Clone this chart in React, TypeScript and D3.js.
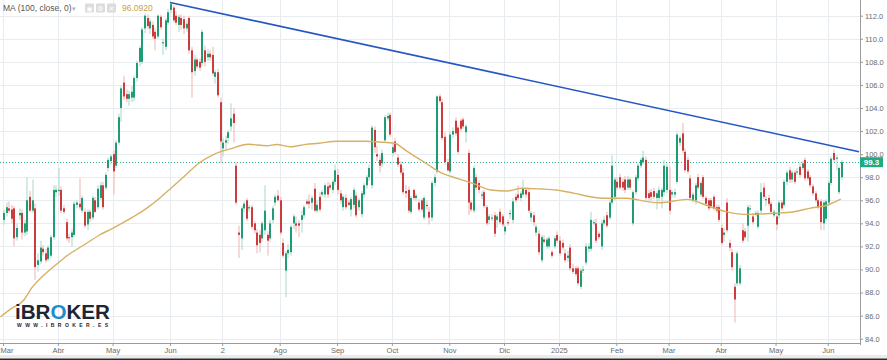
import { useEffect, useRef } from 'react';
import * as d3 from 'd3';

// daily candles per month, [open, high, low, close]
const mar24 = [
    [94.3, 95.2, 93.9, 94.9], [94.9, 95.8, 94.6, 95.4], [95.3, 95.9, 94.9, 95.1], [95.2, 95.6, 94.0, 94.4],
    [95.3, 95.5, 92.0, 92.7], [92.8, 94.0, 92.5, 93.6], [94.7, 95.3, 94.3, 94.9], [94.9, 95.2, 92.6, 93.2],
    [93.2, 94.3, 92.9, 94.0], [93.3, 98.0, 93.0, 96.0], [96.3, 96.8, 95.0, 95.1], [95.1, 97.8, 94.9, 96.0],
    [95.3, 95.7, 89.1, 90.2], [90.4, 91.4, 89.8, 90.8], [90.7, 92.5, 90.5, 91.9], [91.8, 92.1, 91.2, 91.5],
    [91.4, 91.8, 90.6, 90.8], [90.9, 92.1, 90.7, 91.9], [91.2, 93.0, 91.0, 92.8], [92.8, 97.3, 92.6, 96.9],
    [96.7, 97.3, 96.3, 96.9],
];
const abr24 = [
    [96.8, 98.8, 96.4, 96.9], [96.9, 97.2, 94.9, 95.1], [95.3, 95.6, 94.8, 95.0], [94.1, 94.4, 92.5, 92.7],
    [92.8, 93.1, 92.3, 92.7], [92.8, 93.5, 92.0, 93.2], [93.0, 95.9, 92.8, 95.7], [95.6, 96.0, 95.3, 95.8],
    [95.7, 97.9, 95.2, 95.4], [95.1, 96.4, 94.9, 96.2], [95.0, 95.3, 93.6, 93.8], [93.9, 95.2, 93.4, 95.0],
    [95.0, 95.2, 94.1, 94.4], [94.5, 96.4, 94.3, 96.2], [96.0, 96.3, 94.9, 95.0], [95.4, 97.3, 95.2, 97.0],
    [96.2, 97.6, 96.0, 97.3], [97.3, 97.6, 95.2, 95.4], [97.1, 98.4, 96.9, 98.2], [98.8, 99.7, 98.5, 99.5],
    [99.4, 100.0, 99.1, 99.8],
];
const may24 = [
    [100.0, 100.3, 96.5, 98.5], [99.0, 101.2, 98.8, 101.0], [101.0, 103.5, 100.8, 103.2], [104.0, 105.9, 102.8, 105.7],
    [106.2, 106.8, 104.7, 105.0], [105.2, 105.6, 104.5, 104.8], [104.8, 105.5, 104.2, 105.2], [104.9, 105.9, 104.5, 105.4],
    [104.9, 106.8, 104.6, 106.6], [106.6, 108.1, 106.3, 107.9], [108.0, 109.4, 107.6, 109.2], [108.0, 111.0, 107.8, 110.8],
    [110.9, 112.2, 110.5, 112.0], [111.8, 112.1, 110.8, 111.1], [110.9, 111.8, 110.4, 111.5], [111.2, 111.5, 110.0, 110.2],
    [110.6, 110.9, 109.0, 110.0], [110.2, 112.1, 110.0, 112.0], [111.9, 112.1, 110.8, 111.0], [109.6, 110.0, 108.6, 109.7],
    [109.3, 111.8, 109.0, 111.6], [111.4, 112.6, 111.2, 112.3],
];
const jun24 = [
    [112.5, 113.2, 112.2, 113.0], [112.7, 112.9, 111.4, 111.6], [112.0, 112.4, 111.2, 111.4], [111.2, 112.1, 110.6, 111.9],
    [111.8, 112.1, 110.8, 111.2], [111.7, 112.0, 110.4, 110.9], [110.9, 111.6, 110.6, 111.3], [111.8, 112.0, 108.7, 109.0],
    [109.0, 109.3, 104.9, 107.1], [107.2, 108.6, 106.8, 108.2], [108.2, 108.4, 107.4, 107.6], [108.0, 108.3, 107.2, 107.5],
    [107.9, 110.8, 107.6, 110.6], [109.0, 109.4, 107.6, 108.0], [108.4, 109.1, 108.1, 108.7], [108.7, 109.0, 108.1, 108.4],
    [108.6, 109.3, 106.8, 107.0], [106.7, 107.3, 106.1, 107.1], [107.1, 107.4, 104.9, 105.1], [104.5, 104.9, 99.2, 101.1],
];
const jul24 = [
    [100.5, 101.4, 99.8, 101.0], [101.0, 101.6, 100.4, 101.2], [101.4, 102.1, 100.9, 101.9], [102.4, 104.4, 102.0, 103.1],
    [103.5, 104.0, 101.0, 102.7], [99.0, 99.3, 95.6, 95.8], [93.2, 93.8, 91.0, 93.0], [92.7, 95.5, 91.7, 95.3],
    [95.3, 95.9, 95.0, 95.7], [96.0, 96.2, 94.2, 94.4], [95.3, 95.6, 95.0, 95.4], [95.4, 95.6, 93.5, 93.7],
    [94.0, 94.2, 93.1, 93.4], [93.2, 93.5, 91.4, 92.1], [93.0, 93.4, 91.5, 92.3], [92.7, 94.2, 92.4, 94.0],
    [93.4, 97.3, 93.0, 95.1], [93.0, 93.3, 91.2, 92.5], [92.7, 94.3, 92.4, 94.0], [94.3, 95.5, 94.0, 95.3],
    [95.8, 96.5, 95.5, 96.3], [96.4, 96.9, 95.9, 96.0],
];
const ago24 = [
    [96.0, 96.3, 93.0, 93.2], [92.3, 92.7, 91.0, 91.2], [89.9, 91.6, 87.6, 91.4], [91.4, 92.2, 91.0, 91.7],
    [91.5, 93.9, 91.2, 93.7], [94.0, 94.8, 93.5, 94.6], [94.0, 94.6, 93.2, 93.8], [94.0, 94.3, 92.8, 93.8],
    [94.3, 95.1, 93.2, 94.7], [94.7, 95.6, 94.4, 95.4], [95.9, 96.1, 95.6, 95.7], [95.9, 96.5, 95.3, 95.7],
    [95.8, 96.4, 95.2, 96.2], [97.0, 97.5, 95.0, 95.1], [95.1, 96.0, 94.9, 95.6], [96.3, 96.7, 95.0, 95.2],
    [96.5, 96.9, 96.3, 96.7], [96.5, 97.5, 96.2, 97.3], [97.2, 97.6, 96.2, 96.5], [97.3, 97.5, 96.9, 97.1],
    [96.9, 97.8, 96.6, 97.6], [97.6, 99.1, 97.3, 98.6],
];
const sep24 = [
    [98.2, 98.7, 96.5, 96.9], [96.6, 96.9, 95.7, 96.0], [95.4, 96.5, 95.1, 96.3], [96.2, 96.5, 95.2, 95.4],
    [95.8, 96.0, 95.5, 95.6], [95.2, 96.3, 94.6, 96.1], [95.6, 97.1, 95.3, 96.9], [96.4, 96.7, 94.5, 94.7],
    [95.4, 96.2, 95.1, 96.0], [94.8, 96.8, 94.5, 96.6], [96.5, 97.5, 96.2, 97.3], [97.3, 98.2, 97.0, 98.0],
    [98.0, 99.1, 97.7, 98.8], [97.3, 102.5, 97.0, 102.3], [102.1, 102.4, 100.1, 100.6], [100.0, 100.7, 99.4, 99.8],
    [99.5, 99.9, 98.4, 99.0], [99.2, 100.4, 98.9, 100.1], [101.2, 103.4, 101.0, 103.2], [103.1, 103.6, 102.9, 103.3],
    [103.4, 103.6, 101.5, 101.7],
];
const oct24 = [
    [100.1, 100.9, 99.8, 100.6], [101.1, 101.4, 100.0, 100.2], [99.7, 100.0, 98.9, 99.1], [99.1, 99.4, 98.2, 98.4],
    [98.4, 98.8, 96.5, 96.7], [96.8, 97.3, 96.2, 96.6], [96.9, 97.2, 94.9, 95.1], [95.0, 96.4, 94.8, 96.2],
    [96.9, 97.0, 96.0, 96.2], [96.2, 96.6, 95.9, 96.4], [95.8, 96.1, 95.0, 95.2], [96.0, 96.2, 95.0, 95.2],
    [94.5, 96.4, 94.3, 96.2], [95.6, 96.0, 95.2, 95.5], [95.0, 95.4, 93.9, 94.5], [94.5, 97.7, 94.2, 97.5],
    [97.5, 98.3, 97.2, 98.0], [98.5, 105.1, 98.3, 105.0], [105.0, 105.2, 104.4, 104.6], [104.5, 104.8, 101.2, 101.4],
    [101.5, 101.9, 99.1, 99.3], [99.3, 99.6, 98.5, 98.6],
];
const nov24 = [
    [98.5, 102.0, 98.3, 101.7], [101.7, 102.3, 101.4, 102.0], [102.9, 103.2, 101.6, 101.8], [102.3, 102.5, 100.0, 100.2],
    [102.9, 103.1, 102.0, 102.2], [103.0, 103.2, 102.2, 102.4], [101.9, 102.6, 101.0, 102.4], [100.1, 100.4, 94.7, 95.8],
    [95.8, 96.0, 95.0, 95.2], [95.1, 99.0, 94.9, 98.8], [98.0, 98.3, 96.9, 97.1], [97.5, 97.7, 96.6, 96.9],
    [96.4, 96.8, 96.1, 96.5], [96.7, 96.9, 95.3, 95.5], [95.4, 95.6, 93.8, 94.0], [94.3, 94.8, 93.9, 94.6],
    [94.4, 94.8, 94.2, 94.5], [94.7, 95.0, 92.8, 93.1], [94.3, 94.8, 93.6, 94.6], [95.0, 95.3, 93.9, 94.1],
    [94.6, 94.8, 93.7, 93.9],
];
const dic24 = [
    [93.3, 93.9, 93.0, 93.7], [94.1, 94.3, 93.8, 94.0], [94.8, 95.2, 94.4, 94.9], [94.3, 96.2, 94.0, 95.9],
    [96.3, 96.6, 95.8, 96.0], [96.5, 97.3, 96.0, 96.2], [96.2, 96.8, 95.9, 96.6], [96.5, 97.8, 96.3, 97.0],
    [96.9, 97.1, 96.2, 96.5], [96.7, 97.0, 94.9, 95.1], [94.5, 95.1, 94.1, 94.9], [94.7, 95.0, 93.8, 94.1],
    [93.2, 93.9, 92.9, 93.7], [93.1, 93.4, 91.3, 91.5], [90.8, 93.0, 90.6, 92.8], [92.6, 93.0, 92.2, 92.4],
    [92.0, 92.8, 91.8, 92.6], [92.0, 92.9, 91.8, 92.7], [91.5, 91.7, 91.0, 91.2], [92.0, 92.9, 91.8, 92.7],
    [93.0, 93.3, 92.3, 92.5],
];
const ene25 = [
    [92.5, 92.9, 91.2, 91.4], [92.3, 92.6, 91.7, 91.9], [91.4, 91.8, 90.6, 90.8], [91.0, 91.6, 90.7, 91.2],
    [91.9, 92.2, 89.9, 90.1], [90.1, 90.5, 89.6, 89.8], [90.1, 90.3, 89.4, 89.6], [90.1, 90.3, 88.6, 88.8],
    [88.5, 90.1, 88.3, 89.9], [89.9, 90.3, 89.7, 90.0], [90.6, 92.3, 90.4, 92.0], [91.8, 92.3, 91.5, 92.0],
    [91.8, 95.0, 91.6, 94.3], [94.0, 94.3, 93.8, 94.1], [94.0, 94.4, 92.3, 92.5], [93.1, 93.3, 92.6, 92.8],
    [92.0, 94.3, 91.7, 94.0], [94.0, 94.6, 93.8, 94.3], [94.7, 95.0, 93.6, 93.8], [94.5, 96.0, 94.3, 95.8],
    [95.8, 99.9, 95.6, 99.0], [96.3, 98.0, 96.0, 97.8],
];
const feb25 = [
    [97.6, 98.0, 96.9, 97.1], [98.0, 98.3, 96.9, 97.1], [97.6, 97.9, 96.8, 97.1], [97.8, 98.1, 96.6, 96.9],
    [97.1, 98.1, 96.9, 97.8], [97.8, 98.0, 96.9, 97.1], [94.0, 96.9, 93.8, 96.7], [96.7, 98.2, 96.5, 98.0],
    [97.9, 99.2, 97.7, 99.0], [99.0, 99.7, 98.8, 99.5], [99.3, 100.3, 99.1, 99.7], [99.5, 99.8, 96.0, 96.2],
    [96.6, 96.9, 96.0, 96.2], [96.7, 97.0, 96.0, 96.3], [96.8, 97.1, 96.1, 96.3], [96.2, 96.8, 95.2, 96.6],
    [96.2, 97.2, 95.9, 96.9], [96.3, 97.1, 95.3, 96.9], [96.7, 99.5, 96.4, 99.0], [96.9, 99.2, 96.6, 98.9],
];
const mar25 = [
    [96.9, 98.9, 94.8, 95.1], [96.5, 96.9, 96.2, 96.7], [96.5, 97.0, 96.2, 96.7], [97.6, 101.9, 97.4, 101.7],
    [101.0, 101.6, 100.7, 101.4], [101.8, 102.7, 100.1, 100.3], [100.2, 100.5, 98.4, 98.6], [99.5, 99.8, 98.3, 98.5],
    [97.9, 98.2, 96.0, 96.2], [96.0, 96.7, 95.8, 96.5], [96.0, 97.5, 95.6, 97.3], [98.0, 98.3, 96.9, 97.1],
    [96.5, 97.7, 96.3, 97.5], [98.0, 98.2, 96.1, 96.3], [96.2, 96.4, 95.5, 95.7], [96.0, 96.2, 95.1, 95.3],
    [96.0, 96.2, 95.3, 95.5], [96.3, 96.5, 95.1, 95.3], [95.4, 95.6, 94.9, 95.1], [95.4, 95.6, 94.1, 94.3],
];
const abr25 = [
    [93.6, 93.9, 92.1, 92.3], [93.0, 93.6, 92.4, 93.2], [95.8, 96.2, 93.2, 93.4], [92.3, 92.6, 91.6, 91.9],
    [91.5, 91.8, 89.9, 90.2], [88.5, 88.8, 85.4, 87.4], [88.8, 91.6, 88.6, 91.4], [88.8, 90.4, 88.6, 90.1],
    [93.4, 94.0, 92.3, 92.5], [93.3, 93.6, 92.6, 92.8], [93.8, 95.6, 92.4, 95.4], [95.2, 95.6, 95.0, 95.3],
    [94.6, 94.9, 93.9, 94.1], [94.8, 95.1, 94.6, 94.9], [93.7, 95.1, 93.5, 94.9], [95.1, 97.5, 94.9, 96.7],
    [97.1, 97.5, 96.1, 96.3], [96.0, 96.4, 95.5, 96.1], [96.2, 96.5, 95.5, 95.7], [95.7, 95.9, 94.8, 95.0],
    [94.7, 95.2, 94.5, 95.0],
];
const may25 = [
    [94.6, 94.9, 93.4, 93.9], [94.7, 96.0, 94.4, 95.8], [95.8, 96.0, 95.1, 95.3], [95.6, 97.8, 95.4, 97.6],
    [97.6, 98.6, 97.3, 98.4], [98.6, 98.9, 97.5, 97.8], [97.8, 98.6, 97.5, 98.4], [98.4, 98.6, 97.4, 97.6],
    [98.4, 98.8, 98.2, 98.5], [98.9, 99.2, 98.0, 98.2], [98.8, 99.4, 98.6, 99.2], [99.5, 99.7, 97.7, 97.9],
    [98.5, 98.7, 97.7, 97.9], [98.0, 98.2, 97.1, 97.3], [97.2, 97.4, 96.4, 96.6], [96.6, 96.8, 95.8, 96.0],
    [96.0, 96.2, 95.2, 95.4], [95.9, 96.1, 93.4, 94.1], [94.0, 96.0, 93.4, 95.8], [94.4, 96.1, 94.2, 95.9],
];
const jun25 = [
    [95.8, 97.7, 95.5, 97.5], [97.5, 99.8, 97.3, 99.6], [100.1, 100.4, 99.3, 99.5], [99.6, 99.9, 98.6, 99.7],
    [96.7, 98.9, 96.5, 98.8], [98.0, 99.5, 97.8, 99.3],
];

const monthBars = [mar24, abr24, may24, jun24, jul24, ago24, sep24, oct24, nov24, dic24, ene25, feb25, mar25, abr25, may25, jun25];
const monthLabels = ['Mar', 'Abr', 'May', 'Jun', '2', 'Ago', 'Sep', 'Oct', 'Nov', 'Dic', '2025', 'Feb', 'Mar', 'Abr', 'May', 'Jun'];

// MA(100): [bar index, value]
const maPoints = [
    [-1, 85.88], [3, 86.58], [8, 87.36], [11, 88.4], [15, 89.37], [21, 90.54], [24, 91.11], [31, 92.12],
    [37, 92.99], [42, 93.57], [50, 94.58], [55, 95.3], [60, 96.17], [65, 97.18], [70, 98.19], [75, 99.21],
    [81, 100.01], [87, 100.45], [94, 100.85], [101, 100.73], [105, 100.83], [110, 100.64], [116, 100.85],
    [121, 100.94], [128, 101.11], [139, 101.11], [144, 101.05], [150, 100.94], [155, 100.21], [160, 99.5],
    [165, 98.77], [167, 98.48], [174, 97.9], [180, 97.47], [187, 96.89], [193, 96.8], [199, 97.04],
    [206, 96.98], [212, 96.89], [219, 96.6], [225, 96.31], [231, 96.17], [239, 96.17], [247, 95.88],
    [252, 95.79], [262, 96.08], [271, 95.44], [277, 95.01], [284, 94.78], [290, 94.81], [296, 94.87],
    [303, 95.01], [309, 95.3], [316, 95.59], [321, 96.09],
];
const trendPoints = [[64, 113.15], [328, 100.2]];
const priceTicks = [84, 86, 88, 90, 92, 94, 96, 98, 100, 102, 104, 106, 108, 110, 112];
const lastPrice = 99.3;
const maLabel = '96.0920';

const width = 887;
const height = 360;
const plotRight = 860;
const plotBottom = 343;
const font = 'Liberation Sans, Arial, sans-serif';

const App = () => {
    const ref = useRef(null);

    useEffect(() => {
        const svg = d3.select(ref.current);
        svg.selectAll('*').remove();

        const bars = monthBars.flat();
        const monthStart = [];
        let n = 0;
        monthBars.forEach(m => { monthStart.push(n); n += m.length; });

        const x = d3.scaleLinear().domain([0, bars.length - 1]).range([3, 3 + (bars.length - 1) * 2.61]);
        const y = d3.scaleLinear().domain([84, 112]).range([338.7, 15.7]);

        svg.append('rect').attr('width', width).attr('height', height).attr('fill', '#fff');

        svg.append('defs').append('clipPath').attr('id', 'plot')
            .append('rect').attr('x', 0).attr('y', 0).attr('width', plotRight).attr('height', plotBottom);

        // grid
        const grid = svg.append('g').attr('stroke', '#e7ecf0').attr('stroke-width', 1);
        grid.selectAll('.h').data(priceTicks).join('line')
            .attr('x1', 0).attr('x2', plotRight)
            .attr('y1', d => Math.round(y(d)) + 0.5).attr('y2', d => Math.round(y(d)) + 0.5);
        grid.selectAll('.v').data(monthStart).join('line')
            .attr('x1', d => Math.round(x(d)) + 0.5).attr('x2', d => Math.round(x(d)) + 0.5)
            .attr('y1', 0).attr('y2', plotBottom);

        const plot = svg.append('g').attr('clip-path', 'url(#plot)');

        // last price dotted line
        plot.append('line')
            .attr('x1', 0).attr('x2', plotRight)
            .attr('y1', Math.round(y(lastPrice)) + 0.5).attr('y2', Math.round(y(lastPrice)) + 0.5)
            .attr('stroke', '#2bb08c').attr('stroke-dasharray', '1,2');

        // candles
        const up = d => d[3] >= d[0];
        plot.append('g').selectAll('line').data(bars).join('line')
            .attr('x1', (d, i) => Math.round(x(i)) + 1)
            .attr('x2', (d, i) => Math.round(x(i)) + 1)
            .attr('y1', d => y(d[1])).attr('y2', d => y(d[2]))
            .attr('stroke', d => up(d) ? '#a9d6c6' : '#efb3b3')
            .attr('stroke-width', 1);
        plot.append('g').selectAll('rect').data(bars).join('rect')
            .attr('x', (d, i) => Math.round(x(i)))
            .attr('width', 2)
            .attr('y', d => y(Math.max(d[0], d[3])))
            .attr('height', d => Math.max(1, Math.abs(y(d[0]) - y(d[3]))))
            .attr('fill', d => up(d) ? '#1f9c73' : '#cd3c3c');

        // MA(100)
        plot.append('path').datum(maPoints)
            .attr('d', d3.line().x(d => x(d[0])).y(d => y(d[1])).curve(d3.curveMonotoneX))
            .attr('fill', 'none').attr('stroke', '#d6b163').attr('stroke-width', 1.4);

        // trend line
        plot.append('line')
            .attr('x1', x(trendPoints[0][0])).attr('y1', y(trendPoints[0][1]))
            .attr('x2', x(trendPoints[1][0])).attr('y2', y(trendPoints[1][1]))
            .attr('stroke', '#2456c4').attr('stroke-width', 1.6);

        // right axis
        svg.append('line')
            .attr('x1', plotRight + 0.5).attr('x2', plotRight + 0.5).attr('y1', 0).attr('y2', 345)
            .attr('stroke', '#9c9c9c');
        const yAxis = svg.append('g')
            .attr('transform', `translate(${plotRight},0)`)
            .call(d3.axisRight(y).tickValues(priceTicks).tickFormat(d => d.toFixed(1)).tickSize(3).tickPadding(2));
        yAxis.select('.domain').remove();
        yAxis.selectAll('line').attr('stroke', '#9c9c9c');
        yAxis.selectAll('text').attr('fill', '#6a6a6a').attr('font-size', 7.5).attr('font-family', font);

        // bottom axis
        svg.append('line')
            .attr('x1', 0).attr('x2', plotRight + 1).attr('y1', plotBottom + 0.5).attr('y2', plotBottom + 0.5)
            .attr('stroke', '#9c9c9c');
        const xAxis = svg.append('g')
            .attr('transform', `translate(0,${plotBottom})`)
            .call(d3.axisBottom(x).tickValues(monthStart).tickFormat((d, i) => monthLabels[i]).tickSize(3).tickPadding(2));
        xAxis.select('.domain').remove();
        xAxis.selectAll('line').attr('stroke', '#9c9c9c');
        xAxis.selectAll('text').attr('fill', '#6a6a6a').attr('font-size', 7.5).attr('font-family', font);
        xAxis.select('.tick text').attr('text-anchor', 'start').attr('x', -3);

        // last price label
        svg.append('rect')
            .attr('x', plotRight).attr('y', y(lastPrice) - 5).attr('width', 23).attr('height', 10)
            .attr('fill', '#1eaa83');
        svg.append('text')
            .attr('x', plotRight + 11.5).attr('y', y(lastPrice) + 3)
            .attr('text-anchor', 'middle').attr('fill', '#fff')
            .attr('font-size', 8).attr('font-weight', 'bold').attr('font-family', font)
            .text(lastPrice.toFixed(1));

        // bottom strip
        svg.append('rect').attr('x', 0).attr('y', 355).attr('width', width).attr('height', 3.5).attr('fill', '#ebebeb');
        svg.append('rect').attr('x', 0).attr('y', 358.5).attr('width', width).attr('height', 1.5).attr('fill', '#2a2a2a');

        // legend
        const legend = svg.append('g').attr('font-family', font);
        legend.append('text').attr('x', 3).attr('y', 11).attr('font-size', 8.5).attr('fill', '#555')
            .text('MA (100, close, 0)');
        legend.append('text').attr('x', 72).attr('y', 11).attr('font-size', 7).attr('fill', '#b0b0b0').text('▾');
        [85, 96, 107].forEach((px, i) => {
            legend.append('rect').attr('x', px).attr('y', 3.5).attr('width', 9).attr('height', 9)
                .attr('rx', 1).attr('fill', '#dcdcdc');
            legend.append('text').attr('x', px + 4.5).attr('y', 10.7).attr('text-anchor', 'middle')
                .attr('font-size', 7).attr('fill', '#fff').attr('font-family', 'DejaVu Sans')
                .text(['◉', '⚙', '✕'][i]);
        });
        legend.append('text').attr('x', 122).attr('y', 11).attr('font-size', 8.5).attr('fill', '#c9a23f')
            .text(maLabel);

        // logo
        const logo = svg.append('g').attr('font-family', font).attr('font-weight', 'bold');
        const brand = logo.append('text').attr('x', 15).attr('y', 318.5).attr('font-size', 20.5)
            .attr('fill', '#1d2733').attr('textLength', 95).attr('lengthAdjust', 'spacingAndGlyphs');
        brand.append('tspan').text('iBR');
        brand.append('tspan').attr('fill', '#1f8ccc').text('O');
        brand.append('tspan').text('KER');
        logo.append('text').attr('x', 17).attr('y', 326.5).attr('font-size', 5)
            .attr('fill', '#1d2733').attr('textLength', 91).attr('lengthAdjust', 'spacing')
            .text('WWW.IBROKER.ES');
    }, []);

    return (
        <svg ref={ref} width={width} height={height}
            style={{ position: 'absolute', left: 0, top: 0, display: 'block' }} />
    );
};

export default App;
